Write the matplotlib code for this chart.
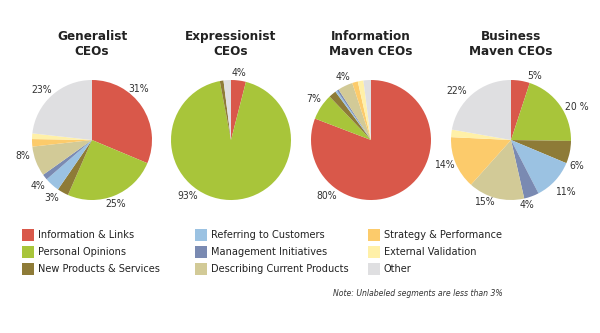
import numpy as np
import matplotlib
matplotlib.use("Agg")
import matplotlib.pyplot as plt
from matplotlib.patches import Rectangle

##########################

categories = ["Information & Links", "Personal Opinions", "New Products & Services",
              "Referring to Customers", "Management Initiatives", "Describing Current Products",
              "Strategy & Performance", "External Validation", "Other"]
colors = ["#d9584a", "#a8c53a", "#8e7b37", "#9bc2e2", "#7a8ab2",
          "#d2ca97", "#fccb6b", "#fff0a8", "#dfdfe1"]

titles = ["Generalist\nCEOs", "Expressionist\nCEOs", "Information\nMaven CEOs", "Business\nMaven CEOs"]

# shares per category, same order as categories
generalist    = [31, 25, 3, 4, 1.5, 8, 2, 1.5, 23]
expressionist = [4, 93, 1, 0, 0, 0, 0, 0, 2]
info_maven    = [80, 7, 2, 0.5, 0.5, 4, 1.5, 1.5, 2]
biz_maven     = [5, 20, 6, 11, 4, 15, 14, 2, 22]

# text shown next to a wedge ("" = unlabeled)
generalist_lbl    = ["31%", "25%", "3%", "4%", "", "8%", "", "", "23%"]
expressionist_lbl = ["4%", "93%", "", "", "", "", "", "", ""]
info_maven_lbl    = ["80%", "7%", "", "", "", "4%", "", "", ""]
biz_maven_lbl     = ["5%", "20 %", "6%", "11%", "4%", "15%", "14%", "", "22%"]

note = "Note: Unlabeled segments are less than 3%"

##########################
# layout (pixels)

W, H = 600, 333
centers_x = [92, 231, 371, 511]
cy, rad = 140, 60

# hand placed label spots, (x, y) pixels, None = no label
lbl_pos = [
    [(139, 89), (116, 204), (52, 198), (38, 186), None, (23, 156), None, None, (42, 90)],
    [(239, 73), (188, 196), None, None, None, None, None, None, None],
    [(327, 196), (314, 99), None, None, None, (343, 77), None, None, None],
    [(535, 76), (577, 107), (577, 166), (565, 192), (527, 205), (484, 202), (444, 165), None, (457, 91)],
]

plt.rcParams['font.family'] = ['DejaVu Sans']
plt.rcParams['font.stretch'] = 'condensed'

fig = plt.figure(figsize=(W / 100, H / 100), dpi=100)
fig.patch.set_facecolor("white")

data = [generalist, expressionist, info_maven, biz_maven]
labels = [generalist_lbl, expressionist_lbl, info_maven_lbl, biz_maven_lbl]

for k, (cx, title, vals, lbls) in enumerate(zip(centers_x, titles, data, labels)):
    ax = fig.add_axes([(cx - rad) / W, (H - cy - rad) / H, 2 * rad / W, 2 * rad / H])
    ax.pie(vals, colors=colors, startangle=90, counterclock=False,
           radius=1.0, wedgeprops=dict(linewidth=0))
    ax.set_xlim(-1, 1)
    ax.set_ylim(-1, 1)
    ax.set_aspect("auto")
    ax.axis("off")
    for lab, pos in zip(lbls, lbl_pos[k]):
        if lab == "" or pos is None:
            continue
        fig.text(pos[0] / W, 1 - pos[1] / H, lab, ha="center", va="center",
                 fontsize=7.5, color="#333333", stretch="condensed")
    fig.text(cx / W, 1 - 44 / H, title, ha="center", va="center", fontsize=9.6,
             fontweight="bold", color="#222222", linespacing=1.25, stretch="condensed")

# legend, three columns
col_x = [22, 195, 368]
row_y = [235, 252, 269]
sq = 12
for i, (cat, c) in enumerate(zip(categories, colors)):
    x = col_x[i // 3]
    y = row_y[i % 3]
    fig.add_artist(Rectangle((x / W, (H - y - sq / 2) / H), sq / W, sq / H,
                             transform=fig.transFigure, facecolor=c, edgecolor="none"))
    fig.text((x + 16) / W, 1 - y / H, cat, ha="left", va="center",
             fontsize=7.8, color="#222222", stretch="condensed")

fig.text(503 / W, 1 - 293 / H, note, ha="right", va="center", fontsize=6.2,
         style="italic", color="#333333", stretch="condensed")

plt.savefig("out.png", dpi=100, facecolor="white")
